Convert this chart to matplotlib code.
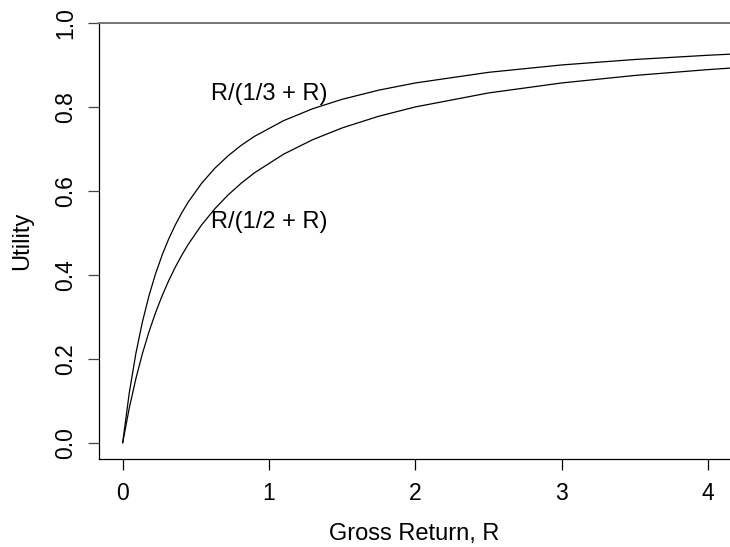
import matplotlib
matplotlib.use("Agg")
import matplotlib.pyplot as plt

plt.rcParams['font.family'] = ['Liberation Sans', 'DejaVu Sans']

# gross return values where the curves were sampled
gross_return = [0, 0.045, 0.09, 0.135, 0.18, 0.225, 0.27, 0.315, 0.36, 0.405, 0.45,
                0.54, 0.63, 0.72, 0.81, 0.9, 1.1, 1.3, 1.5, 1.75, 2.0, 2.5, 3.0,
                3.5, 4.0, 4.2]

# utility, R/(1/3 + R)
util_third = [0, 0.1189, 0.2126, 0.2883, 0.3506, 0.4030, 0.4475, 0.4859, 0.5192,
              0.5485, 0.5745, 0.6183, 0.6540, 0.6835, 0.7085, 0.7297, 0.7674,
              0.7959, 0.8182, 0.8400, 0.8571, 0.8824, 0.9000, 0.9130, 0.9231,
              0.9265]

# utility, R/(1/2 + R)
util_half = [0, 0.0826, 0.1525, 0.2126, 0.2647, 0.3103, 0.3506, 0.3865, 0.4186,
             0.4475, 0.4737, 0.5192, 0.5575, 0.5902, 0.6183, 0.6429, 0.6875,
             0.7222, 0.7500, 0.7778, 0.8000, 0.8333, 0.8571, 0.8750, 0.8889,
             0.8936]

curve_labels = ["R/(1/3 + R)", "R/(1/2 + R)"]
label_x = [1.0, 1.0]
label_y = [0.83, 0.525]

xticks = [0, 1, 2, 3, 4]
yticks = [0.0, 0.2, 0.4, 0.6, 0.8, 1.0]

fig = plt.figure(figsize=(7.3, 5.47), dpi=100)
ax = fig.add_axes([0.136, 0.160, 0.864, 0.798])

ax.plot(gross_return, util_third, color='black', lw=0.9)
ax.plot(gross_return, util_half, color='black', lw=0.9)

for txt, tx, ty in zip(curve_labels, label_x, label_y):
    ax.text(tx, ty, txt, ha='center', va='center', fontsize=17)

ax.set_xlim(-0.16, 4.15)
ax.set_ylim(-0.04, 1.0)

ax.set_xticks(xticks)
ax.set_xticklabels([str(t) for t in xticks])
ax.set_yticks(yticks)
ax.set_yticklabels(["%.1f" % t for t in yticks], rotation=90, va='center')

ax.tick_params(direction='out', length=8, width=0.9, labelsize=16.5, pad=8)
ax.tick_params(axis='y', colors='#444444', labelcolor='black')

ax.spines['right'].set_visible(False)
ax.spines['top'].set_color('#777777')
ax.spines['top'].set_linewidth(1.4)
for s in ['left', 'bottom']:
    ax.spines[s].set_linewidth(0.9)

ax.set_xlabel("Gross Return, R", fontsize=17, labelpad=13)
ax.set_ylabel("Utility", fontsize=17, labelpad=15)

fig.savefig("out.png", dpi=100)
